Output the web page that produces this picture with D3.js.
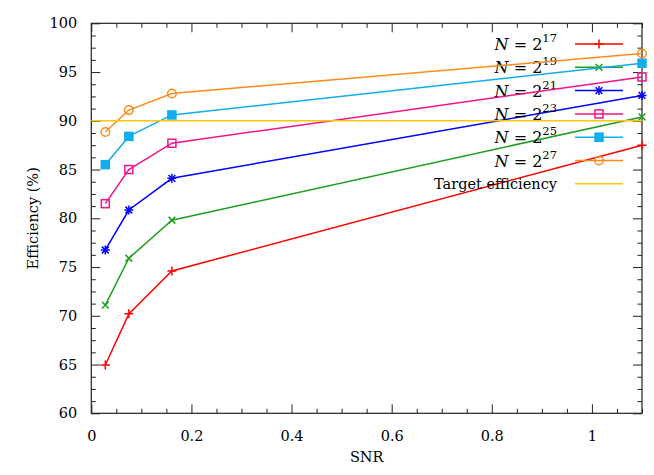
<!DOCTYPE html>
<html>
<head>
<meta charset="utf-8">
<script src="https://cdn.jsdelivr.net/npm/d3@7"></script>
<style>
  body { margin: 0; background: #fff; }
  text { font-family: "DejaVu Serif", serif; }
</style>
</head>
<body>
<script>
// SNR vs efficiency for several problem sizes

// x values shared by every series
let snr = [0.028, 0.075, 0.161, 1.1];

// exponents of N = 2^k
let exponents = [17, 19, 21, 23, 25, 27];

// efficiency (%) per series
let eff17 = [64.95, 70.2, 74.6, 87.5];
let eff19 = [71.1, 75.9, 79.8, 90.4];
let eff21 = [76.75, 80.85, 84.1, 92.6];
let eff23 = [81.5, 85.0, 87.7, 94.5];
let eff25 = [85.5, 88.4, 90.6, 95.9];
let eff27 = [88.85, 91.1, 92.8, 96.9];

let target = 90;

let xTicks = [0, 0.2, 0.4, 0.6, 0.8, 1];
let yTicks = [60, 65, 70, 75, 80, 85, 90, 95, 100];

let colors = ["#ff0000", "#1f9e1f", "#0000ff", "#f0148c", "#10aeea", "#ff8a1c"];
let targetColor = "#ffc800";
let markers = ["plus", "cross", "star", "square", "fsquare", "circle"];

let series = [eff17, eff19, eff21, eff23, eff25, eff27].map((vals, i) => ({
  exp: exponents[i],
  color: colors[i],
  marker: markers[i],
  points: vals.map((v, j) => [snr[j], v])
}));

let width = 654;
let height = 475;
let plotLeft = 91.3, plotRight = 642, plotTop = 23.3, plotBottom = 413.3;

let svg = d3.select("body").append("svg")
  .attr("width", width)
  .attr("height", height);

let x = d3.scaleLinear().domain([0, 1.1]).range([plotLeft, plotRight]);
let y = d3.scaleLinear().domain([60, 100]).range([plotBottom, plotTop]);

// minor ticks every 0.05 / 1.25
let xMinor = d3.range(0, 1.1001, 0.05).filter(v => xTicks.indexOf(+v.toFixed(2)) < 0);
let yMinor = d3.range(60, 100.001, 1.25).filter(v => v % 5 !== 0);

let axisColor = "#222";

function styleAxis(g) {
  g.select(".domain").remove();
  g.selectAll(".tick line").attr("stroke", axisColor).attr("stroke-width", 1);
  g.selectAll(".tick text")
    .attr("fill", "#000")
    .style("font-size", "14.5px")
    .style("font-family", "'DejaVu Serif', serif");
}

// bottom
svg.append("g").attr("transform", `translate(0,${plotBottom})`)
  .call(d3.axisBottom(x).tickValues(xTicks).tickSize(-9).tickPadding(17).tickFormat(d3.format("~g")))
  .call(styleAxis);
svg.append("g").attr("transform", `translate(0,${plotBottom})`)
  .call(d3.axisBottom(x).tickValues(xMinor).tickSize(-4.5).tickFormat(""))
  .call(styleAxis);
// top
svg.append("g").attr("transform", `translate(0,${plotTop})`)
  .call(d3.axisTop(x).tickValues(xTicks).tickSize(-9).tickFormat(""))
  .call(styleAxis);
svg.append("g").attr("transform", `translate(0,${plotTop})`)
  .call(d3.axisTop(x).tickValues(xMinor).tickSize(-4.5).tickFormat(""))
  .call(styleAxis);
// left
svg.append("g").attr("transform", `translate(${plotLeft},0)`)
  .call(d3.axisLeft(y).tickValues(yTicks).tickSize(-9).tickPadding(14))
  .call(styleAxis);
svg.append("g").attr("transform", `translate(${plotLeft},0)`)
  .call(d3.axisLeft(y).tickValues(yMinor).tickSize(-4.5).tickFormat(""))
  .call(styleAxis);
// right
svg.append("g").attr("transform", `translate(${plotRight},0)`)
  .call(d3.axisRight(y).tickValues(yTicks).tickSize(-9).tickFormat(""))
  .call(styleAxis);
svg.append("g").attr("transform", `translate(${plotRight},0)`)
  .call(d3.axisRight(y).tickValues(yMinor).tickSize(-4.5).tickFormat(""))
  .call(styleAxis);

// border
svg.append("rect")
  .attr("x", plotLeft).attr("y", plotTop)
  .attr("width", plotRight - plotLeft).attr("height", plotBottom - plotTop)
  .attr("fill", "none").attr("stroke", axisColor).attr("stroke-width", 1.2);

// axis titles
svg.append("text")
  .attr("x", (plotLeft + plotRight) / 2)
  .attr("y", 462)
  .attr("text-anchor", "middle")
  .style("font-size", "14.5px")
  .text("SNR");

svg.append("text")
  .attr("transform", `translate(38,${(plotTop + plotBottom) / 2}) rotate(-90)`)
  .attr("text-anchor", "middle")
  .style("font-size", "14.5px")
  .text("Efficiency (%)");

// marker drawing
function drawMarker(g, type, color, cx, cy) {
  let s = 4.5;
  if (type === "plus" || type === "star") {
    g.append("path")
      .attr("d", `M${cx - s},${cy}H${cx + s}M${cx},${cy - s}V${cy + s}`)
      .attr("stroke", color).attr("stroke-width", 1.5).attr("fill", "none");
  }
  if (type === "cross" || type === "star") {
    let t = s * 0.75;
    g.append("path")
      .attr("d", `M${cx - t},${cy - t}L${cx + t},${cy + t}M${cx - t},${cy + t}L${cx + t},${cy - t}`)
      .attr("stroke", color).attr("stroke-width", 1.5).attr("fill", "none");
  }
  if (type === "square" || type === "fsquare") {
    g.append("rect")
      .attr("x", cx - 4).attr("y", cy - 4)
      .attr("width", 8).attr("height", 8)
      .attr("stroke", color).attr("stroke-width", 1.5)
      .attr("fill", type === "fsquare" ? color : "none");
  }
  if (type === "circle") {
    g.append("circle")
      .attr("cx", cx).attr("cy", cy).attr("r", 4.3)
      .attr("stroke", color).attr("stroke-width", 1.5).attr("fill", "none");
  }
}

let line = d3.line().x(d => x(d[0])).y(d => y(d[1]));

let legendTextX = 557;
let sampleX0 = 575, sampleX1 = 623;
let legendY0 = 44, legendStep = 23.3;

series.forEach((s, i) => {
  let g = svg.append("g");
  let ly = legendY0 + i * legendStep;

  // legend entry
  let label = g.append("text")
    .attr("x", legendTextX)
    .attr("y", ly + 6)
    .attr("text-anchor", "end")
    .style("font-size", "16px");
  label.append("tspan").style("font-style", "italic").text("N");
  label.append("tspan").text(" = 2");
  label.append("tspan").attr("dy", -8).style("font-size", "11.5px").text(s.exp);

  g.append("line")
    .attr("x1", sampleX0).attr("x2", sampleX1)
    .attr("y1", ly).attr("y2", ly)
    .attr("stroke", s.color).attr("stroke-width", 1.5);
  drawMarker(g, s.marker, s.color, (sampleX0 + sampleX1) / 2, ly);

  // data
  g.append("path")
    .datum(s.points)
    .attr("d", line)
    .attr("fill", "none")
    .attr("stroke", s.color)
    .attr("stroke-width", 1.5);
  s.points.forEach(p => drawMarker(g, s.marker, s.color, x(p[0]), y(p[1])));
});

// target efficiency
let tg = svg.append("g");
let ty = legendY0 + 6 * legendStep;
tg.append("text")
  .attr("x", legendTextX)
  .attr("y", ty + 5)
  .attr("text-anchor", "end")
  .style("font-size", "14.5px")
  .text("Target efficiency");
tg.append("line")
  .attr("x1", sampleX0).attr("x2", sampleX1)
  .attr("y1", ty).attr("y2", ty)
  .attr("stroke", targetColor).attr("stroke-width", 1.5);
tg.append("line")
  .attr("x1", x(0)).attr("x2", x(1.1))
  .attr("y1", y(target)).attr("y2", y(target))
  .attr("stroke", targetColor).attr("stroke-width", 1.5);
</script>
</body>
</html>
